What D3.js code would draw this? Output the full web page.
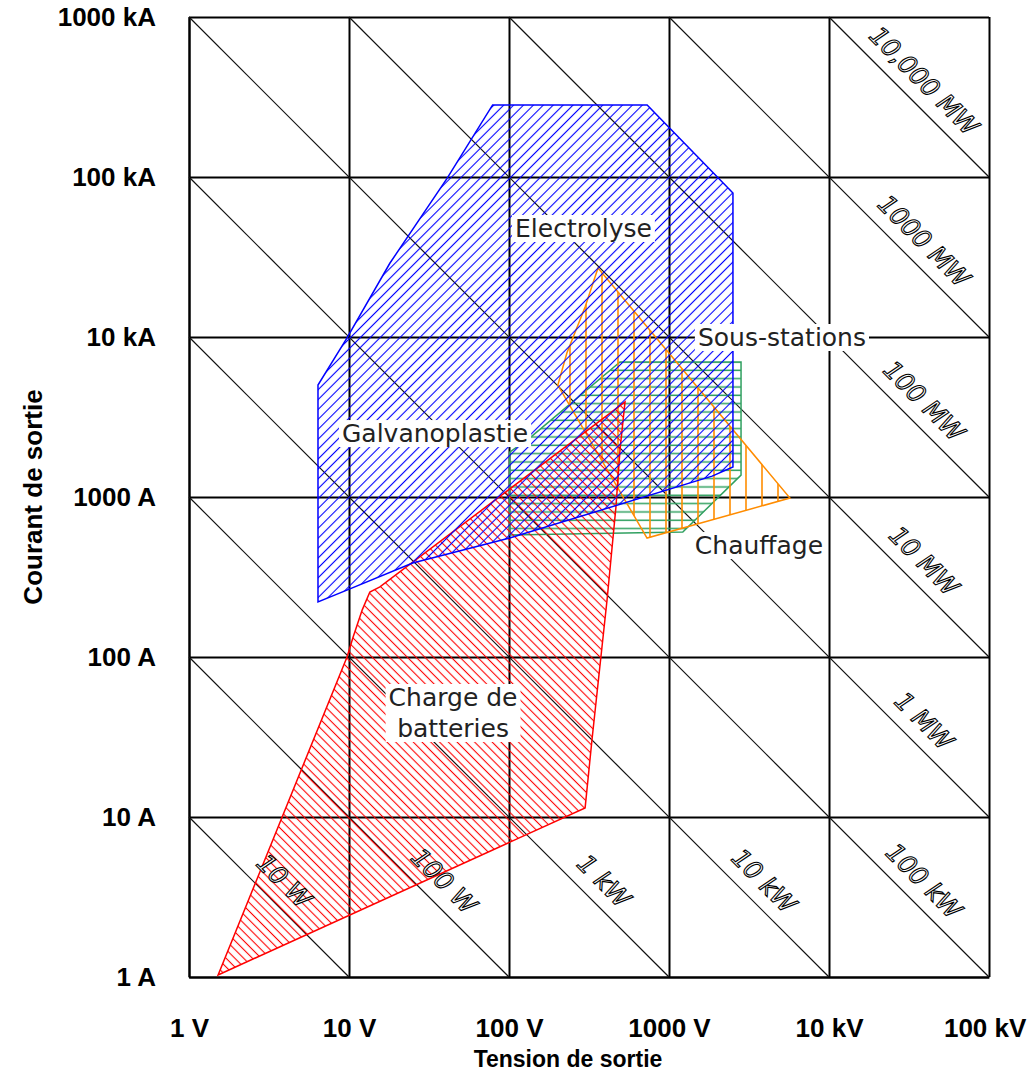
<!DOCTYPE html>
<html>
<head>
<meta charset="utf-8">
<script src="https://cdn.jsdelivr.net/npm/d3@7"></script>
<style>
  body { margin: 0; background: #fff; }
  svg { display: block; }
</style>
</head>
<body>
<div id="chart"></div>
<script>
// axis ticks and their labels
var voltageTicks = [1, 10, 100, 1000, 1e4, 1e5];
var voltageLabels = ["1 V", "10 V", "100 V", "1000 V", "10 kV", "100 kV"];
var currentTicks = [1, 10, 100, 1000, 1e4, 1e5, 1e6];
var currentLabels = ["1 A", "10 A", "100 A", "1000 A", "10 kA", "100 kA", "1000 kA"];

// constant power lines (W)
var powerLines = [1e1, 1e2, 1e3, 1e4, 1e5, 1e6, 1e7, 1e8, 1e9, 1e10];
var bottomPowers = [1e1, 1e2, 1e3, 1e4, 1e5];
var bottomPowerLabels = ["10 W", "100 W", "1 kW", "10 kW", "100 kW"];
var rightPowers = [1e6, 1e7, 1e8, 1e9, 1e10];
var rightPowerLabels = ["1 MW", "10 MW", "100 MW", "1000 MW", "10,000 MW"];

// regions, [volts, amperes]
var electrolyse = [[79, 282000], [730, 282000], [2510, 79400], [2510, 1540], [1860, 1350],
    [101, 554], [25, 387], [9.7, 262], [6.4, 221], [6.4, 5010], [9.7, 9840], [18, 28900], [41, 98000]];
var batteries = [[1.52, 1.03], [9.72, 100], [10.6, 133], [12.1, 197], [13.5, 255], [15.6, 274],
    [531, 3930], [494, 1970], [466, 866], [410, 227], [330, 30.3], [299, 11.4]];
var sousStations = [[494, 6980], [2820, 6980], [2820, 1370], [1220, 604], [101, 579], [101, 1910], [135, 2340]];
var chauffage = [[360, 27000], [299, 15400], [230, 7940], [202, 5010], [729, 554], [5700, 985]];

// region names
var labelTexts = [["Electrolyse"], ["Sous-stations"], ["Galvanoplastie"], ["Chauffage"], ["Charge de", "batteries"]];
var labelVolts = [292, 5080, 34.5, 3650, 44.7];
var labelAmps = [48000, 10000, 2510, 501, 45];

var svg, x, y;

function draw() {
    var W = 1030, H = 1074;
    var left = 189, right = 989, top = 17, bottom = 977;

    svg = d3.select("#chart").append("svg")
        .attr("width", W)
        .attr("height", H);

    svg.append("rect").attr("width", W).attr("height", H).attr("fill", "#fff");

    x = d3.scaleLog().domain([1, 1e5]).range([left, right]);
    y = d3.scaleLog().domain([1, 1e6]).range([bottom, top]);

    // hatch patterns
    var defs = svg.append("defs");
    function hatch(id, size, angle, color, width) {
        var p = defs.append("pattern")
            .attr("id", id)
            .attr("patternUnits", "userSpaceOnUse")
            .attr("width", size).attr("height", size)
            .attr("patternTransform", "rotate(" + angle + ")");
        p.append("line")
            .attr("x1", size / 2).attr("y1", -1)
            .attr("x2", size / 2).attr("y2", size + 1)
            .attr("stroke", color).attr("stroke-width", width);
    }
    hatch("hBlue", 7, 45, "#0000ff", 1.1);
    hatch("hRed", 6.2, -45, "#ff0000", 1.1);

    var pv = defs.append("pattern")
        .attr("id", "hOrange")
        .attr("patternUnits", "userSpaceOnUse")
        .attr("x", 594).attr("y", 0)
        .attr("width", 16).attr("height", 10);
    pv.append("line").attr("x1", 8).attr("y1", 0).attr("x2", 8).attr("y2", 10)
        .attr("stroke", "#ff8c00").attr("stroke-width", 1.6);

    var ph = defs.append("pattern")
        .attr("id", "hGreen")
        .attr("patternUnits", "userSpaceOnUse")
        .attr("x", 0).attr("y", 358)
        .attr("width", 10).attr("height", 8.33);
    ph.append("line").attr("x1", 0).attr("y1", 4).attr("x2", 10).attr("y2", 4)
        .attr("stroke", "#30a060").attr("stroke-width", 1.5);

    // grid through the axes
    var xAxis = svg.append("g")
        .attr("transform", "translate(0," + bottom + ")")
        .call(d3.axisBottom(x)
            .tickValues(voltageTicks)
            .tickFormat(function(d, i) { return voltageLabels[i]; })
            .tickSize(-(bottom - top))
            .tickSizeOuter(0)
            .tickPadding(42));

    var yAxis = svg.append("g")
        .attr("transform", "translate(" + left + ",0)")
        .call(d3.axisLeft(y)
            .tickValues(currentTicks)
            .tickFormat(function(d, i) { return currentLabels[i]; })
            .tickSize(-(right - left))
            .tickSizeOuter(0)
            .tickPadding(33));

    [xAxis, yAxis].forEach(function(a) {
        a.selectAll("line, path").attr("stroke", "#000").attr("stroke-width", 2);
        a.selectAll("text")
            .attr("fill", "#000")
            .style("font-family", "'Liberation Sans', Arial, sans-serif")
            .style("font-weight", "bold")
            .style("font-size", "26px");
    });

    // keep the last voltage label inside the page
    xAxis.selectAll(".tick text").each(function() {
        var b = this.getBBox();
        var tx = +d3.select(this.parentNode).attr("transform").match(/translate\(([-\d.]+)/)[1];
        var over = tx + b.x + b.width - (W - 3);
        if (over > 0) d3.select(this).attr("x", -over);
    });

    // constant power diagonals
    svg.append("g").selectAll("line")
        .data(powerLines)
        .enter().append("line")
        .attr("x1", function(p) { return x(Math.max(1, p / 1e6)); })
        .attr("y1", function(p) { return y(p / Math.max(1, p / 1e6)); })
        .attr("x2", function(p) { return x(Math.min(1e5, p)); })
        .attr("y2", function(p) { return y(p / Math.min(1e5, p)); })
        .attr("stroke", "#111")
        .attr("stroke-width", 1.2);

    // hatched regions
    var line = d3.line()
        .x(function(d) { return x(d[0]); })
        .y(function(d) { return y(d[1]); })
        .curve(d3.curveLinearClosed);

    var regions = [
        {pts: sousStations, fill: "url(#hGreen)", stroke: "#30a060"},
        {pts: chauffage, fill: "url(#hOrange)", stroke: "#ff8c00"},
        {pts: batteries, fill: "url(#hRed)", stroke: "#ff0000"},
        {pts: electrolyse, fill: "url(#hBlue)", stroke: "#0000ff"}
    ];
    svg.append("g").selectAll("path")
        .data(regions)
        .enter().append("path")
        .attr("d", function(d) { return line(d.pts); })
        .attr("fill", function(d) { return d.fill; })
        .attr("stroke", function(d) { return d.stroke; })
        .attr("stroke-width", 1.5);

    // power labels along the diagonals
    var pl = [];
    bottomPowers.forEach(function(p, i) {
        var v = p / Math.sqrt(10);
        pl.push({v: v, a: p / v, t: bottomPowerLabels[i]});
    });
    rightPowers.forEach(function(p, i) {
        var v = Math.pow(10, 4.5);
        pl.push({v: v, a: p / v, t: rightPowerLabels[i]});
    });
    svg.append("g").selectAll("text")
        .data(pl)
        .enter().append("text")
        .attr("transform", function(d) {
            return "translate(" + (x(d.v) + 15) + "," + (y(d.a) - 16) + ") rotate(45)";
        })
        .attr("text-anchor", "middle")
        .attr("dy", "0.35em")
        .attr("fill", "#fff")
        .attr("stroke", "#000")
        .attr("stroke-width", 1.1)
        .style("font-family", "'DejaVu Sans', Verdana, sans-serif")
        .style("font-style", "italic")
        .style("font-size", "25px")
        .text(function(d) { return d.t; });

    // region names on white boxes
    labelTexts.forEach(function(lines, i) {
        var g = svg.append("g")
            .attr("transform", "translate(" + x(labelVolts[i]) + "," + y(labelAmps[i]) + ")");
        var box = g.append("rect").attr("fill", "#fff");
        var t = g.append("text")
            .attr("text-anchor", "middle")
            .attr("fill", "#222")
            .style("font-family", "'DejaVu Sans', Verdana, sans-serif")
            .style("font-size", "25px");
        var lh = 31;
        lines.forEach(function(s, k) {
            t.append("tspan")
                .attr("x", 0)
                .attr("y", (k - (lines.length - 1) / 2) * lh)
                .attr("dy", "0.36em")
                .text(s);
        });
        var b = t.node().getBBox();
        box.attr("x", b.x - 3).attr("y", b.y + 1)
            .attr("width", b.width + 6).attr("height", b.height - 2);
    });

    // axis titles
    svg.append("text")
        .attr("x", 568).attr("y", 1067)
        .attr("text-anchor", "middle")
        .style("font-family", "'Liberation Sans', Arial, sans-serif")
        .style("font-weight", "bold")
        .style("font-size", "23px")
        .text("Tension de sortie");

    svg.append("text")
        .attr("transform", "translate(42,497) rotate(-90)")
        .attr("text-anchor", "middle")
        .style("font-family", "'Liberation Sans', Arial, sans-serif")
        .style("font-weight", "bold")
        .style("font-size", "26px")
        .text("Courant de sortie");
}

window.onload = draw;
</script>
</body>
</html>
